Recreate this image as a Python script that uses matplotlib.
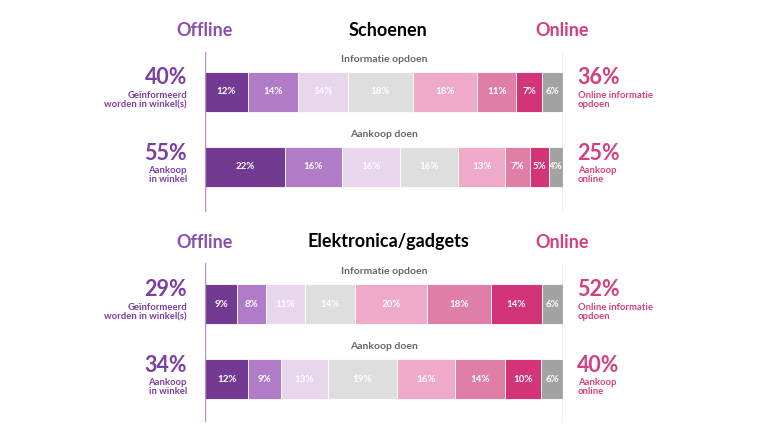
import numpy as np
import matplotlib
matplotlib.use('Agg')
import matplotlib.pyplot as plt

plt.rcParams['font.family'] = ['Lato', 'DejaVu Sans']

# ---------- data ----------
categories = ['Schoenen', 'Elektronica/gadgets']
rows = ['Informatie opdoen', 'Aankoop doen']
shares = [
    [[12, 14, 14, 18, 18, 11, 7, 6],
     [22, 16, 16, 16, 13, 7, 5, 4]],
    [[9, 8, 11, 14, 20, 18, 14, 6],
     [12, 9, 13, 19, 16, 14, 10, 6]],
]
offline_pct = [[40, 55], [29, 34]]
online_pct = [[36, 25], [52, 40]]
offline_lbl = ['Geïnformeerd\nworden in winkel(s)', 'Aankoop\nin winkel']
online_lbl = ['Online informatie\nopdoen', 'Aankoop\nonline']

colors = ['#723a91', '#b07cc7', '#e8d6ed', '#dedede',
          '#eeaac8', '#e07fa6', '#d33377', '#a3a3a3']
purple = '#7b3f9f'
pink = '#d4407f'

W, H = 760, 428
fig = plt.figure(figsize=(W / 100, H / 100), dpi=100)

# pixel layout of each panel: (line top, line bottom, title y)
panels = [(52, 212, 31), (263, 422, 242)]
row_gap = 75.0
bar_h = 40.0
x0, x1 = 205, 563

def fy(py):
    return 1 - py / H

for p, (ytop, ybot, ty) in enumerate(panels):
    first = ytop + 40 if p == 0 else ytop + 41
    lo = (ytop - first) / row_gap
    hi = 1 + (ybot - (first + row_gap)) / row_gap
    ax = fig.add_axes([x0 / W, fy(ybot), (x1 - x0) / W, (ybot - ytop) / H])
    ax.set_xlim(0, 100)
    ax.set_ylim(hi, lo)
    ax.axis('off')
    ax.axvline(0, color='#b68ccb', lw=1)
    ax.axvline(100, color='#e9a3c2', lw=1)

    for r in range(2):
        vals = np.array(shares[p][r], dtype=float)
        widths = vals * 100 / vals.sum()
        lefts = np.concatenate([[0], np.cumsum(widths)[:-1]])
        ax.barh(r, widths, left=lefts, height=bar_h / row_gap,
                color=colors, edgecolor='white', linewidth=0.6)
        for v, l, w in zip(vals, lefts, widths):
            ax.text(l + w / 2, r, '%d%%' % v, ha='center', va='center',
                    color='white', fontsize=7, fontweight='bold')
        ax.text(50, r - 0.43, rows[r], ha='center', va='center',
                color='#666666', fontsize=7.5, fontweight='bold')

        cy = first + r * row_gap
        fig.text(187 / W, fy(cy - 14), '%d%%' % offline_pct[p][r],
                 ha='right', va='center', color=purple, fontsize=15.5,
                 fontweight='bold')
        fig.text(187 / W, fy(cy + 8), offline_lbl[r], ha='right',
                 va='center', color=purple, fontsize=6.8,
                 fontweight='bold', linespacing=1.05)
        fig.text(577 / W, fy(cy - 14), '%d%%' % online_pct[p][r],
                 ha='left', va='center', color=pink, fontsize=15.5,
                 fontweight='bold')
        fig.text(578 / W, fy(cy + 8), online_lbl[r], ha='left',
                 va='center', color=pink, fontsize=6.8,
                 fontweight='bold', linespacing=1.05)

    fig.text(205 / W, fy(ty), 'Offline', ha='center', va='center',
             color='#8a4fb0', fontsize=13, fontweight='bold')
    fig.text(388 / W, fy(ty), categories[p], ha='center', va='center',
             color='black', fontsize=13, fontweight='bold')
    fig.text(562 / W, fy(ty), 'Online', ha='center', va='center',
             color=pink, fontsize=13, fontweight='bold')

fig.savefig('out.png', dpi=100, facecolor='white')
